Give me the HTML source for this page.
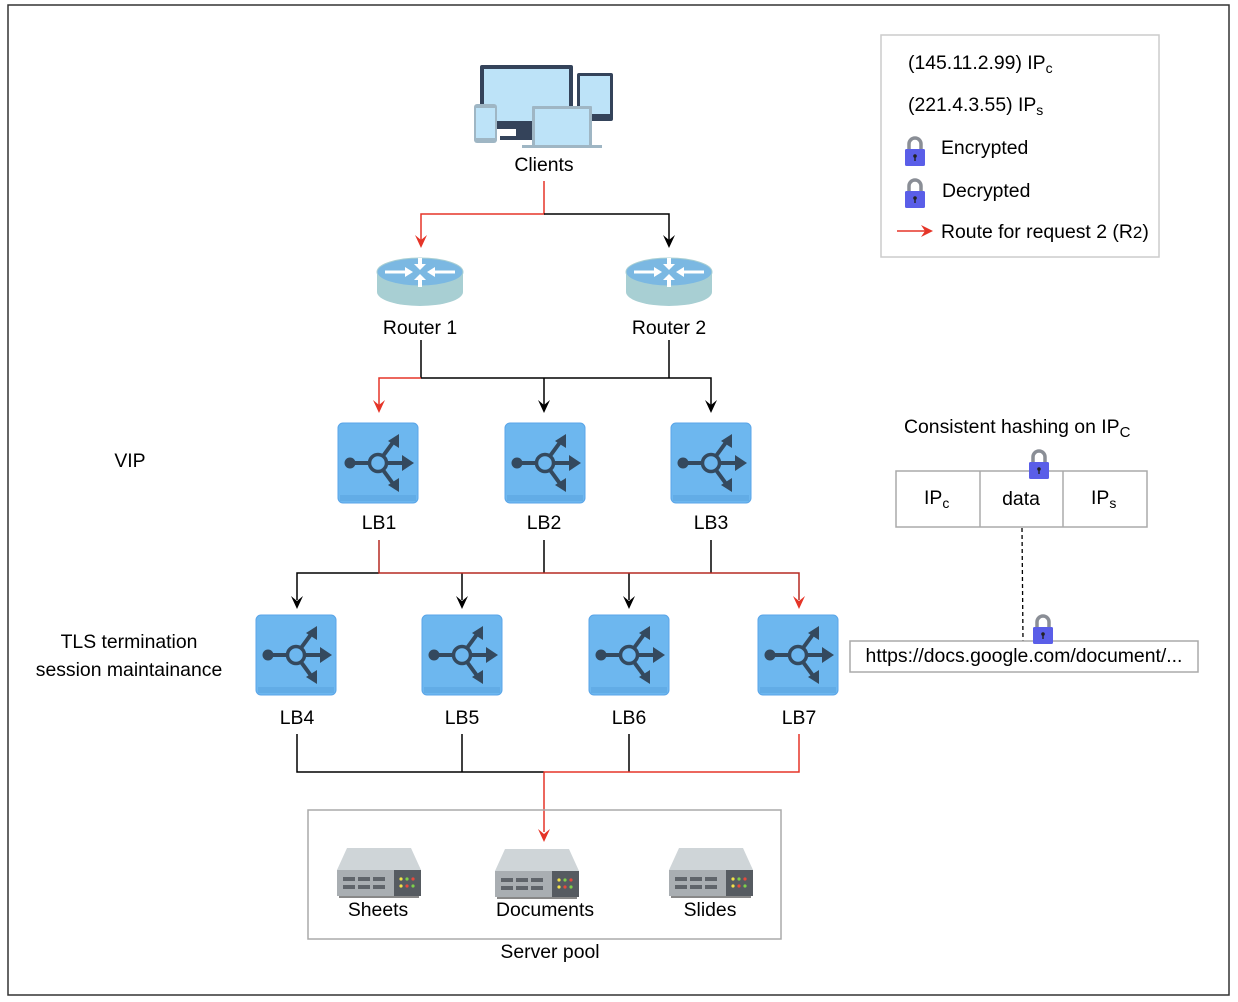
<!DOCTYPE html>
<html><head><meta charset="utf-8"><style>
html,body{margin:0;padding:0;background:#fff}
svg{display:block}
text{font-family:"Liberation Sans",Arial,sans-serif;font-size:19.4px;fill:#000}
</style></head><body>
<svg width="1238" height="1002" viewBox="0 0 1238 1002" xmlns="http://www.w3.org/2000/svg">
<defs>
<g id="lb">
<rect x="0" y="0" width="80" height="80" rx="5" fill="#6db7ef" stroke="#5aa5e8" stroke-width="1"/>
<rect x="2" y="72" width="76" height="6" fill="#62ace6"/>
<g stroke="#34495e" fill="none">
<line x1="12" y1="40" x2="32" y2="40" stroke-width="4"/>
<circle cx="40" cy="40" r="8.5" stroke-width="3.5"/>
<line x1="49" y1="40" x2="66" y2="40" stroke-width="4"/>
<line x1="45" y1="33" x2="56" y2="18" stroke-width="4"/>
<line x1="45" y1="47" x2="56" y2="62" stroke-width="4"/>
</g>
<circle cx="12" cy="40" r="5.5" fill="#34495e"/>
<path d="M64,32 L76,40 L64,48 Z" fill="#34495e"/>
<path d="M50,18 L61,11 L61,25 Z" fill="#34495e"/>
<path d="M50,62 L61,69 L61,55 Z" fill="#34495e"/>
</g>
<g id="router">
<rect x="0" y="17" width="86" height="20" fill="#a8cfd3"/>
<ellipse cx="43" cy="37" rx="43" ry="14" fill="#a8cfd3"/>
<ellipse cx="43" cy="17" rx="43" ry="14" fill="#7bb8e2" stroke="#a8cfd3"/>
<g fill="#fff">
<rect x="8" y="15.5" width="22" height="3"/><path d="M28,12 L36,17 L28,22Z"/>
<rect x="56" y="15.5" width="22" height="3"/><path d="M58,12 L50,17 L58,22Z"/>
<rect x="41" y="3" width="4" height="8"/><path d="M37,9 L43,15 L49,9Z"/>
<rect x="41" y="23" width="4" height="9"/><path d="M37,25 L43,19 L49,25Z"/>
</g>
</g>
<g id="server">
<path d="M10,0 L74,0 L84,22 L0,22 Z" fill="#cfd5d8"/>
<rect x="0" y="22" width="84" height="26" fill="#a9aeb2"/>
<rect x="57" y="22" width="27" height="26" fill="#565b61"/>
<rect x="2" y="48" width="80" height="2" fill="#888"/>
<g fill="#5f646a"><rect x="6" y="29" width="12" height="4"/><rect x="21" y="29" width="12" height="4"/><rect x="36" y="29" width="12" height="4"/><rect x="6" y="37" width="12" height="4"/><rect x="21" y="37" width="12" height="4"/><rect x="36" y="37" width="12" height="4"/></g>
<circle cx="64" cy="31" r="1.6" fill="#f3e24a"/><circle cx="70" cy="31" r="1.6" fill="#7ed04b"/><circle cx="76" cy="31" r="1.6" fill="#e84a3d"/>
<circle cx="64" cy="38" r="1.6" fill="#f3e24a"/><circle cx="70" cy="38" r="1.6" fill="#e84a3d"/><circle cx="76" cy="38" r="1.6" fill="#7ed04b"/>
</g>
<g id="lock">
<path d="M4,13 V8 A6,6 0 0 1 16,8 V13" fill="none" stroke="#8a8e96" stroke-width="3.5"/>
<rect x="0" y="13" width="20" height="17" rx="1.5" fill="#5a5ee8"/>
<circle cx="10" cy="20" r="1.8" fill="#222"/><rect x="9.3" y="20" width="1.4" height="5" fill="#222"/>
</g>
<path id="ah" d="M-6,-13 L0,0 L6,-13 L0,-8Z"/>
</defs>

<rect x="8" y="5" width="1221" height="990" fill="none" stroke="#333" stroke-width="1.5"/>

<rect x="480" y="65" width="93" height="64" rx="2" fill="#34435a"/>
<rect x="484" y="69" width="85" height="52" fill="#bde3f8"/>
<rect x="516" y="129" width="16" height="8" fill="#34435a"/><rect x="500" y="136" width="34" height="4" fill="#34435a"/>
<rect x="577" y="73" width="36" height="48" rx="2" fill="#34435a"/>
<rect x="580" y="76" width="30" height="38" fill="#bde3f8"/>
<rect x="474" y="104" width="23" height="39" rx="3" fill="#9fb6c4"/>
<rect x="476" y="108" width="19" height="30" fill="#bde3f8"/>
<rect x="532" y="106" width="60" height="40" rx="1" fill="#9fb6c4"/>
<rect x="535" y="109" width="54" height="36" fill="#bde3f8"/>
<rect x="522" y="145" width="80" height="3" fill="#9fb6c4"/>
<text x="544" y="171" text-anchor="middle">Clients</text>

<path d="M544,181 V214 H421 V240" fill="none" stroke="#e53528" stroke-width="1.5"/>
<use href="#ah" x="421" y="248" fill="#e53528"/>
<path d="M544,214 H669 V240" fill="none" stroke="#000" stroke-width="1.5"/>
<use href="#ah" x="669" y="248" fill="#000"/>

<use href="#router" x="377" y="255"/>
<use href="#router" x="626" y="255"/>
<text x="420" y="334" text-anchor="middle">Router 1</text>
<text x="669" y="334" text-anchor="middle">Router 2</text>

<path d="M421,340 V378 M669,340 V378 M421,378 H711 V405 M544,378 V405" fill="none" stroke="#000" stroke-width="1.5"/>
<path d="M421,378 H379 V405" fill="none" stroke="#e53528" stroke-width="1.5"/>
<use href="#ah" x="379" y="413" fill="#e53528"/>
<use href="#ah" x="544" y="413" fill="#000"/>
<use href="#ah" x="711" y="413" fill="#000"/>

<use href="#lb" x="338" y="423"/>
<use href="#lb" x="505" y="423"/>
<use href="#lb" x="671" y="423"/>
<text x="379" y="529" text-anchor="middle">LB1</text>
<text x="544" y="529" text-anchor="middle">LB2</text>
<text x="711" y="529" text-anchor="middle">LB3</text>
<text x="130" y="467" text-anchor="middle">VIP</text>

<path d="M544,540 V573 M711,540 V573 M379,573 H297 V600 M462,573 V600 M629,573 V600" fill="none" stroke="#000" stroke-width="1.5"/>
<path d="M379,540 V573 H799 V600" fill="none" stroke="#b52a22" stroke-width="1.5"/>
<use href="#ah" x="297" y="609" fill="#000"/>
<use href="#ah" x="462" y="609" fill="#000"/>
<use href="#ah" x="629" y="609" fill="#000"/>
<use href="#ah" x="799" y="609" fill="#e53528"/>

<use href="#lb" x="256" y="615"/>
<use href="#lb" x="422" y="615"/>
<use href="#lb" x="589" y="615"/>
<use href="#lb" x="758" y="615"/>
<text x="297" y="724" text-anchor="middle">LB4</text>
<text x="462" y="724" text-anchor="middle">LB5</text>
<text x="629" y="724" text-anchor="middle">LB6</text>
<text x="799" y="724" text-anchor="middle">LB7</text>
<text x="129" y="648" text-anchor="middle">TLS termination</text>
<text x="129" y="676" text-anchor="middle">session maintainance</text>

<path d="M297,734 V772 H544 M462,734 V772 M629,734 V772" fill="none" stroke="#000" stroke-width="1.5"/>
<path d="M799,734 V772 H544 V832" fill="none" stroke="#e53528" stroke-width="1.5"/>
<use href="#ah" x="544" y="842" fill="#e53528"/>

<rect x="308" y="810" width="473" height="129" fill="none" stroke="#aaa" stroke-width="1.5"/>
<use href="#server" x="337" y="848"/>
<use href="#server" x="495" y="849"/>
<use href="#server" x="669" y="848"/>
<text x="378" y="916" text-anchor="middle">Sheets</text>
<text x="545" y="916" text-anchor="middle">Documents</text>
<text x="710" y="916" text-anchor="middle">Slides</text>
<text x="550" y="958" text-anchor="middle">Server pool</text>

<rect x="881" y="35" width="278" height="222" fill="none" stroke="#ccc" stroke-width="1.5"/>
<text x="908" y="69">(145.11.2.99) IP<tspan font-size="14" dy="4">c</tspan></text>
<text x="908" y="111">(221.4.3.55) IP<tspan font-size="14" dy="4">s</tspan></text>
<use href="#lock" x="905" y="136"/>
<text x="941" y="154">Encrypted</text>
<use href="#lock" x="905" y="178"/>
<text x="942" y="197">Decrypted</text>
<line x1="897" y1="231" x2="925" y2="231" stroke="#e53528" stroke-width="1.5"/>
<path d="M921,225 L933,231 L921,237 L925,231Z" fill="#e53528"/>
<text x="941" y="238">Route for request 2 (R<tspan font-size="17">2</tspan>)</text>

<text x="904" y="433">Consistent hashing on IP<tspan font-size="15" dy="4">C</tspan></text>
<rect x="896" y="471" width="251" height="56" fill="#fff" stroke="#aaa" stroke-width="1.5"/>
<line x1="980" y1="471" x2="980" y2="527" stroke="#aaa" stroke-width="1.5"/>
<line x1="1063" y1="471" x2="1063" y2="527" stroke="#aaa" stroke-width="1.5"/>
<text x="924" y="504">IP<tspan font-size="14" dy="4">c</tspan></text>
<text x="1021" y="505" text-anchor="middle">data</text>
<text x="1091" y="504">IP<tspan font-size="14" dy="4">s</tspan></text>
<use href="#lock" x="1029" y="449"/>
<line x1="1022" y1="528" x2="1023" y2="641" stroke="#000" stroke-width="1.3" stroke-dasharray="4,3"/>
<rect x="850" y="641" width="348" height="31" fill="#fff" stroke="#aaa" stroke-width="1.5"/>
<text x="1024" y="662" text-anchor="middle">https://docs.google.com/document/...</text>
<use href="#lock" x="1033" y="614"/>
</svg>
</body></html>
